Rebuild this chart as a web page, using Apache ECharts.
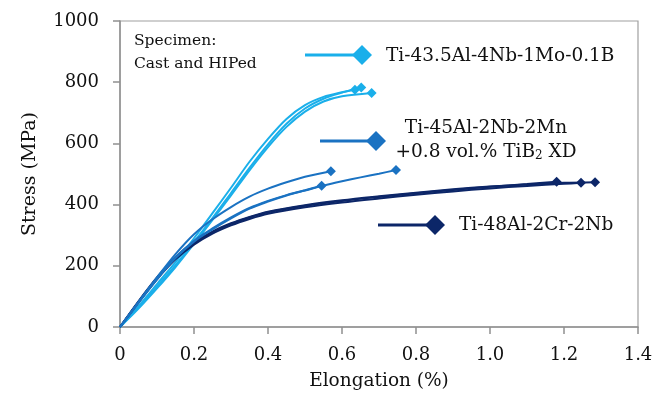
<!DOCTYPE html>
<html>
<head>
<meta charset="utf-8">
<script src="https://cdn.jsdelivr.net/npm/echarts@6/dist/echarts.min.js"></script>
<style>
  html, body { margin: 0; padding: 0; background: #fff; }
  #main { width: 667px; height: 405px; }
</style>
</head>
<body>
<div id="main"></div>
<script>
// Ti-43.5Al-4Nb-1Mo-0.1B (3 specimens)
const tnmX1 = [0, 0.05, 0.1, 0.15, 0.2, 0.25, 0.3, 0.35, 0.4, 0.45, 0.5, 0.55, 0.6, 0.635];
const tnmY1 = [0, 68, 140, 212, 290, 372, 455, 540, 615, 680, 725, 752, 767, 775];
const tnmX2 = [0, 0.05, 0.1, 0.15, 0.2, 0.25, 0.3, 0.35, 0.4, 0.45, 0.5, 0.55, 0.6, 0.652];
const tnmY2 = [0, 64, 132, 202, 278, 356, 438, 520, 597, 664, 714, 746, 766, 783];
const tnmX3 = [0, 0.05, 0.1, 0.15, 0.2, 0.25, 0.3, 0.35, 0.4, 0.45, 0.5, 0.55, 0.6, 0.68];
const tnmY3 = [0, 60, 126, 196, 272, 350, 430, 512, 588, 654, 704, 737, 754, 765];

// Ti-45Al-2Nb-2Mn +0.8 vol.% TiB2 XD (3 specimens)
const xdX1 = [0, 0.05, 0.1, 0.15, 0.2, 0.25, 0.3, 0.35, 0.4, 0.45, 0.5, 0.57];
const xdY1 = [0, 82, 162, 238, 303, 352, 392, 426, 452, 473, 491, 509];
const xdX2 = [0, 0.05, 0.1, 0.15, 0.2, 0.25, 0.3, 0.35, 0.4, 0.45, 0.5, 0.545];
const xdY2 = [0, 80, 158, 228, 282, 322, 358, 389, 412, 431, 447, 462];
const xdX3 = [0, 0.05, 0.1, 0.15, 0.2, 0.25, 0.3, 0.35, 0.4, 0.45, 0.5, 0.55, 0.6, 0.65, 0.7, 0.746];
const xdY3 = [0, 79, 156, 225, 279, 319, 355, 387, 410, 430, 446, 462, 476, 489, 501, 513];

// Ti-48Al-2Cr-2Nb (3 specimens)
const gX1 = [0, 0.05, 0.1, 0.15, 0.2, 0.25, 0.3, 0.35, 0.4, 0.5, 0.6, 0.7, 0.8, 0.9, 1.0, 1.1, 1.18];
const gY1 = [0, 82, 160, 226, 274, 310, 337, 358, 375, 396, 412, 425, 437, 448, 458, 467, 475];
const gX2 = [0, 0.05, 0.1, 0.15, 0.2, 0.25, 0.3, 0.35, 0.4, 0.5, 0.6, 0.7, 0.8, 0.9, 1.0, 1.1, 1.2, 1.246];
const gY2 = [0, 80, 156, 221, 269, 305, 332, 353, 370, 391, 407, 420, 432, 443, 453, 461, 468, 471];
const gX3 = [0, 0.05, 0.1, 0.15, 0.2, 0.25, 0.3, 0.35, 0.4, 0.5, 0.6, 0.7, 0.8, 0.9, 1.0, 1.1, 1.2, 1.284];
const gY3 = [0, 84, 162, 228, 276, 312, 339, 360, 377, 398, 414, 427, 439, 450, 459, 466, 471, 473];

const xTicks = ['0', '0.2', '0.4', '0.6', '0.8', '1.0', '1.2', '1.4'];
const yTicks = ['0', '200', '400', '600', '800', '1000'];

const cTnm = '#1AAFEA';
const cXd = '#1A72C2';
const cG = '#0C2668';

const serif = 'DejaVu Serif';

function curve(xs, ys, color, width) {
  const data = xs.map((x, i) => {
    if (i === xs.length - 1) {
      return { value: [x, ys[i]], symbol: 'diamond', symbolSize: 10 };
    }
    return { value: [x, ys[i]], symbol: 'none' };
  });
  return {
    type: 'line',
    data: data,
    smooth: 0.3,
    showSymbol: true,
    symbol: 'none',
    lineStyle: { color: color, width: width },
    itemStyle: { color: color },
    emphasis: { disabled: true },
    animation: false
  };
}

function legendItem(x1, x2, y, color) {
  const r = 10;
  return [
    { type: 'line', shape: { x1: x1, y1: y, x2: x2, y2: y }, style: { stroke: color, lineWidth: 3 } },
    { type: 'polygon', shape: { points: [[x2 - r, y], [x2, y - r], [x2 + r, y], [x2, y + r]] }, style: { fill: color } }
  ];
}

const chart = echarts.init(document.getElementById('main'));

const option = {
  backgroundColor: '#fff',
  animation: false,
  grid: {
    left: 120, right: 29, top: 21, bottom: 78,
    show: true, borderColor: '#a0a0a0', borderWidth: 1.2
  },
  xAxis: {
    type: 'value', min: 0, max: 1.4, interval: 0.2,
    name: 'Elongation (%)', nameLocation: 'middle', nameGap: 45,
    nameTextStyle: { fontFamily: serif, fontSize: 18.5, color: '#111' },
    axisLine: { lineStyle: { color: '#909090', width: 1.5 } },
    axisTick: { show: true, length: 7, lineStyle: { color: '#909090', width: 1.5 } },
    axisLabel: {
      margin: 19, fontFamily: serif, fontSize: 18, color: '#111',
      formatter: (v) => xTicks[Math.round(v / 0.2)]
    },
    splitLine: { show: false }
  },
  yAxis: {
    type: 'value', min: 0, max: 1000, interval: 200,
    name: 'Stress (MPa)', nameLocation: 'middle', nameGap: 80, nameRotate: 90,
    nameTextStyle: { fontFamily: serif, fontSize: 19, color: '#111' },
    axisLine: { show: true, lineStyle: { color: '#909090', width: 1.5 } },
    axisTick: { show: true, length: 7, lineStyle: { color: '#909090', width: 1.5 } },
    axisLabel: {
      margin: 21, fontFamily: serif, fontSize: 18, color: '#111',
      formatter: (v) => yTicks[Math.round(v / 200)]
    },
    splitLine: { show: false }
  },
  series: [
    curve(tnmX1, tnmY1, cTnm, 2),
    curve(tnmX2, tnmY2, cTnm, 2),
    curve(tnmX3, tnmY3, cTnm, 2),
    curve(gX1, gY1, cG, 2),
    curve(gX2, gY2, cG, 2),
    curve(gX3, gY3, cG, 2),
    curve(xdX1, xdY1, cXd, 2),
    curve(xdX2, xdY2, cXd, 2),
    curve(xdX3, xdY3, cXd, 2)
  ],
  graphic: [
    {
      type: 'text', left: 134, top: 29,
      style: { text: 'Specimen:\nCast and HIPed', font: '15.5px "DejaVu Serif"', fill: '#111', lineHeight: 23 }
    },
    ...legendItem(305, 362, 55, cTnm),
    {
      type: 'text', x: 386, y: 56,
      style: { text: 'Ti-43.5Al-4Nb-1Mo-0.1B', font: '18.5px "DejaVu Serif"', fill: '#111', align: 'left', verticalAlign: 'middle' }
    },
    ...legendItem(320, 376, 141, cXd),
    {
      type: 'text', x: 486, y: 128,
      style: { text: 'Ti-45Al-2Nb-2Mn', font: '18.5px "DejaVu Serif"', fill: '#111', align: 'center', verticalAlign: 'middle' }
    },
    {
      type: 'text', x: 486, y: 152,
      style: {
        text: '+0.8 vol.% TiB{sub|2} XD', font: '18.5px "DejaVu Serif"', fill: '#111',
        align: 'center', verticalAlign: 'middle',
        rich: { sub: { fontFamily: serif, fontSize: 12, fill: '#111', padding: [8, 0, 0, 0] } }
      }
    },
    ...legendItem(378, 435, 225, cG),
    {
      type: 'text', x: 459, y: 225,
      style: { text: 'Ti-48Al-2Cr-2Nb', font: '18.5px "DejaVu Serif"', fill: '#111', align: 'left', verticalAlign: 'middle' }
    }
  ]
};

chart.setOption(option);
</script>
</body>
</html>
